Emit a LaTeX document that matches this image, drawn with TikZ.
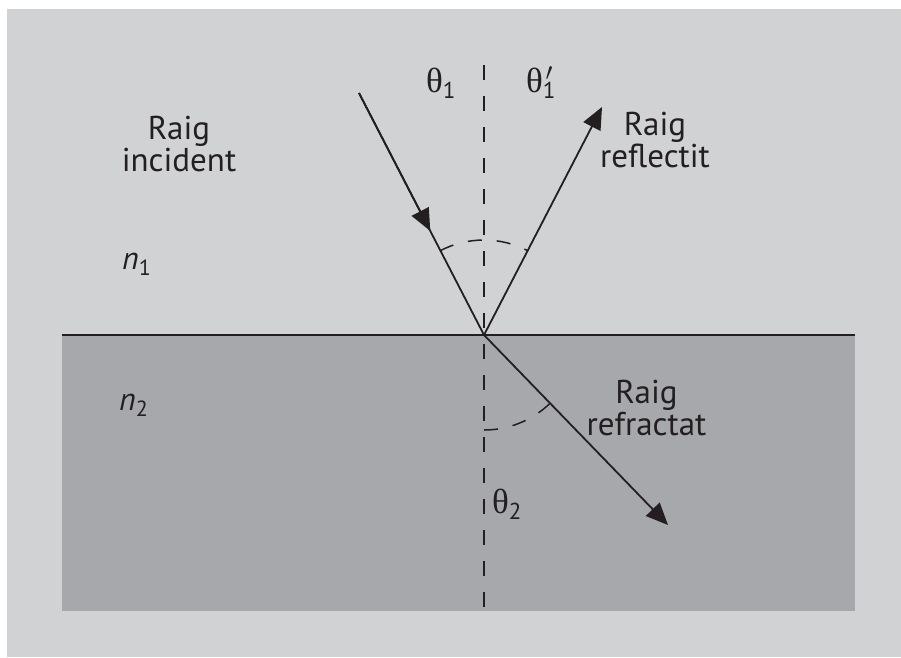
\documentclass[tikz,border=0pt]{standalone}
\usepackage{fontspec}
\setmainfont{PT Sans}
\newfontfamily\grk{Liberation Serif}
\usetikzlibrary{arrows.meta,calc}
\definecolor{bgl}{HTML}{D1D2D4}
\definecolor{bgd}{HTML}{A7A8AB}
\definecolor{ink}{HTML}{231F20}
\newcommand{\thsub}[2]{{\fontsize{35}{35}\selectfont\grk θ}\raisebox{-6pt}{\fontsize{23}{23}\selectfont #1\llap{\raisebox{18pt}{#2\hspace{3pt}}}}}
\begin{document}
\begin{tikzpicture}[x=1pt,y=-1pt,
  lbl/.style={font=\fontsize{33}{32}\selectfont, align=center, anchor=base, inner sep=0pt, text=ink},
  sym/.style={anchor=base west, inner sep=0pt, text=ink},
  ray/.style={draw=ink, line width=1.8pt},
  tip/.style={-{Triangle[length=22pt,width=19pt]}},
  dsh/.style={draw=ink, line width=1.5pt, dash pattern=on 15pt off 16pt},
  adsh/.style={draw=ink, line width=1.5pt, dash pattern=on 14pt off 15pt}]
\useasboundingbox (0,0) rectangle (901,657);
\fill[white] (0,0) rectangle (901,657);
\fill[bgl] (7,9) rectangle (901,657);
\fill[bgd] (62,335) rectangle (855,611);
\coordinate (L) at (62,335);
\coordinate (R) at (855,335);
\coordinate (O) at (484,335);
\coordinate (A) at (359,93);
\coordinate (B) at (602,107);
\coordinate (C) at (668,525);
\coordinate (NT) at (484,65);
\coordinate (NB) at (484,611);
\draw[ray] (L) -- (R);
\draw[dsh] (NT) -- (NB);
\draw[adsh] ($(O)+(-117.3:95)$) arc[start angle=-117.3, end angle=-62.6, radius=95];
\draw[adsh] ($(O)+(90:95)$) arc[start angle=90, end angle=45.9, radius=95];
\draw[ray] (A) -- (O);
\draw[ray,tip] (A) -- ($(A)!0.57!(O)$);
\draw[ray,tip] (O) -- (B);
\draw[ray,tip] (O) -- (C);
\node[lbl] (inc) at (179,171) {Raig\\incident};
\node[lbl] (refl) at (655,167) {Raig\\reflectit};
\node[lbl] (refr) at (646.5,435) {Raig\\refractat};
\node[sym] (n1) at (122,269) {\fontsize{32}{32}\selectfont\itshape n\upshape\raisebox{-6pt}{\fontsize{22}{22}\selectfont 1}};
\node[sym] (n2) at (119,410) {\fontsize{32}{32}\selectfont\itshape n\upshape\raisebox{-6pt}{\fontsize{22}{22}\selectfont 2}};
\node[sym] (t1) at (426,92) {\thsub{1}{}};
\node[sym] (t1p) at (526,92) {\thsub{1}{$\prime$}};
\node[sym] (t2) at (492,513) {\thsub{2}{}};
\end{tikzpicture}
\end{document}
